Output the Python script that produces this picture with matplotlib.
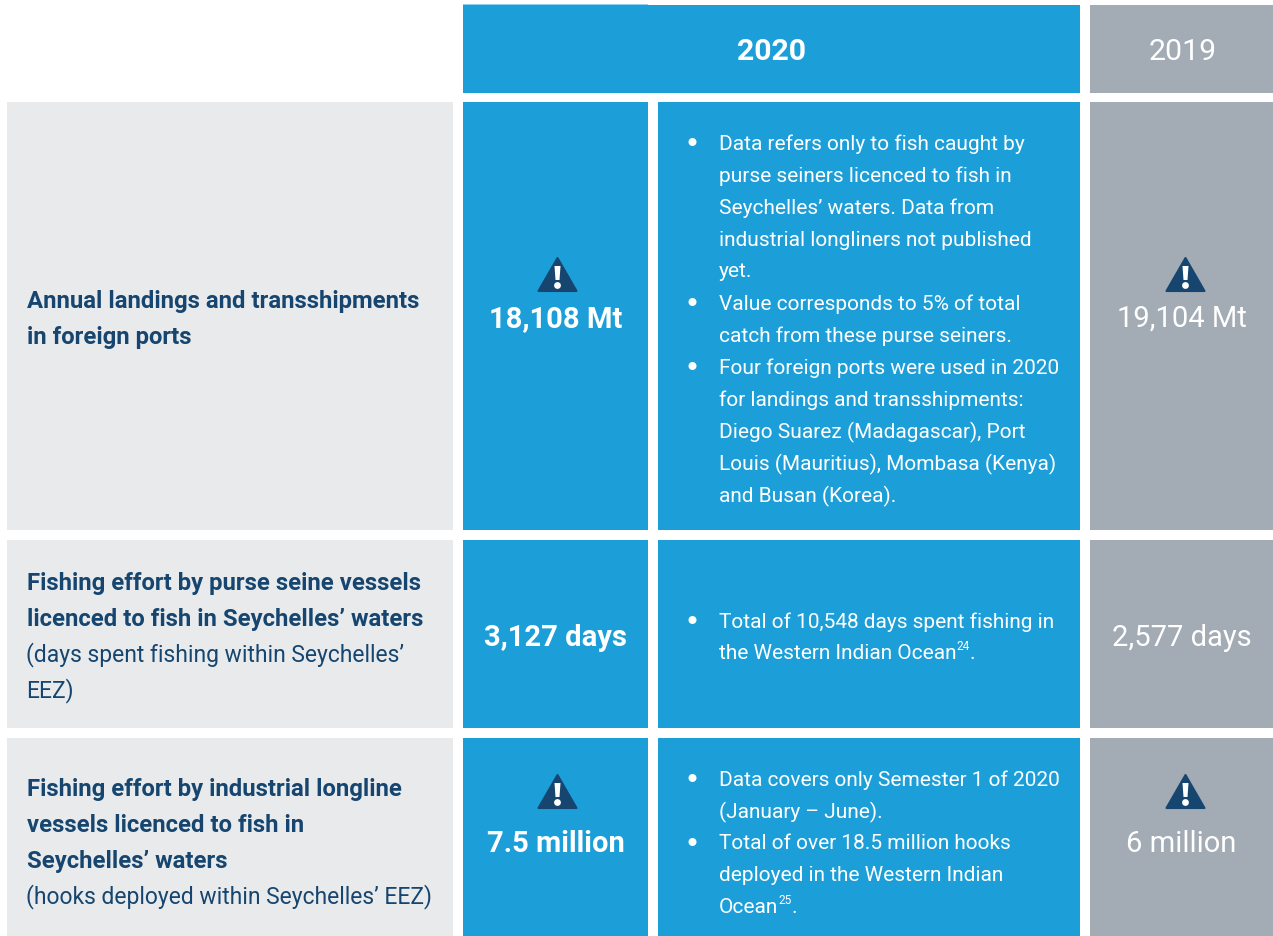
import matplotlib
matplotlib.use("Agg")

import matplotlib.pyplot as plt
from matplotlib.patches import Polygon, Rectangle, Circle

FONT = "Roboto"
BLUE = "#1c9fd8"
GREY = "#a3abb4"
LIGHT = "#e9eaec"
NAVY = "#16466f"

years = ["2020", "2019"]

row_titles = [
    ["Annual landings and transshipments", "in foreign ports"],
    ["Fishing effort by purse seine vessels", "licenced to fish in Seychelles\u2019 waters"],
    ["Fishing effort by industrial longline", "vessels licenced to fish in", "Seychelles\u2019 waters"],
]
row_notes = [
    [],
    ["(days spent fishing within Seychelles\u2019", "EEZ)"],
    ["(hooks deployed within Seychelles\u2019 EEZ)"],
]
values_2020 = ["18,108 Mt", "3,127 days", "7.5 million"]
values_2019 = ["19,104 Mt", "2,577 days", "6 million"]
warnings = [True, False, True]

# each bullet is a list of wrapped lines
comments = [
    [
        ["Data refers only to fish caught by", "purse seiners licenced to fish in",
         "Seychelles\u2019 waters. Data from", "industrial longliners not published", "yet."],
        ["Value corresponds to 5% of total", "catch from these purse seiners."],
        ["Four foreign ports were used in 2020", "for landings and transshipments:",
         "Diego Suarez (Madagascar), Port", "Louis (Mauritius), Mombasa (Kenya)",
         "and Busan (Korea)."],
    ],
    [["Total of 10,548 days spent fishing in", "the Western Indian Ocean"]],
    [
        ["Data covers only Semester 1 of 2020", "(January \u2013 June)."],
        ["Total of over 18.5 million hooks", "deployed in the Western Indian", "Ocean"],
    ],
]
# superscript note and the text after it, on the last line of the last bullet
footnotes = [None, ("24", "."), ("25", ".")]

# layout in pixels of the page
col_left = [7, 463, 658, 1090]
col_right = [453, 648, 1080, 1273]
row_top = [103, 541, 739]
row_bottom = [531, 729, 937]
head_top, head_bottom = 6, 94
title_first_y = [302, 584, 790]
comment_first_y = [144, 622, 780]
value_y = [319, 638, 844]
icon_y = [276, None, 793]
TITLE_SIZE = 17.2
NOTE_SIZE = 16.5
BODY_SIZE = 15.0
VALUE_SIZE = 21
HEAD_SIZE = 21.8
LINE_TITLE = 36
LINE_BODY = 32

fig = plt.figure(figsize=(12.73, 9.37), dpi=100)
ax = fig.add_axes([0, 0, 1, 1])
ax.set_xlim(0, 1273)
ax.set_ylim(937, 0)
ax.axis("off")


def cell(x0, x1, y0, y1, color):
    ax.add_patch(Rectangle((x0, y0), x1 - x0, y1 - y0, facecolor=color, edgecolor="none"))


def label(x, y, s, color="white", size=BODY_SIZE, weight="normal", ha="left"):
    return ax.text(x, y, s, color=color, fontsize=size, fontweight=weight, ha=ha,
                   va="center", family=FONT)


def warning_icon(cx, cy):
    # triangle with a white exclamation mark, about 40 px wide
    ax.add_patch(Polygon([(cx, cy - 17), (cx + 19, cy + 16), (cx - 19, cy + 16)], closed=True,
                         facecolor=NAVY, edgecolor=NAVY, linewidth=1.5, joinstyle="round"))
    ax.add_patch(Polygon([(cx - 3, cy - 9), (cx + 3, cy - 9), (cx + 2, cy + 5), (cx - 2, cy + 5)],
                         closed=True, facecolor="white", edgecolor="none"))
    ax.add_patch(Circle((cx, cy + 10.5), 3.4, facecolor="white", edgecolor="none"))


# header
cell(col_left[1], col_right[2], head_top, head_bottom, BLUE)
cell(col_left[1], col_right[1], head_top - 1, head_top, "#8fcdea")
cell(col_left[3], col_right[3], head_top, head_bottom, GREY)
label((col_left[1] + col_right[2]) / 2, 52, years[0], size=HEAD_SIZE, weight="bold", ha="center")
label((col_left[3] + col_right[3]) / 2 + 1, 52, years[1], size=HEAD_SIZE, ha="center")

for i in range(3):
    y0, y1 = row_top[i], row_bottom[i]
    cell(col_left[0], col_right[0], y0, y1, LIGHT)
    cell(col_left[1], col_right[1], y0, y1, BLUE)
    cell(col_left[2], col_right[2], y0, y1, BLUE)
    cell(col_left[3], col_right[3], y0, y1, GREY)

    # row title, bold lines then the regular note
    y = title_first_y[i]
    for line in row_titles[i]:
        label(27, y, line, color=NAVY, size=TITLE_SIZE, weight="bold")
        y += LINE_TITLE
    for line in row_notes[i]:
        label(26, y - 1, line, color=NAVY, size=NOTE_SIZE)
        y += LINE_TITLE

    # values
    label((col_left[1] + col_right[1]) / 2, value_y[i], values_2020[i], size=VALUE_SIZE,
          weight="bold", ha="center")
    label((col_left[3] + col_right[3]) / 2, value_y[i], values_2019[i], size=VALUE_SIZE, ha="center")
    if warnings[i]:
        warning_icon((col_left[1] + col_right[1]) / 2 + 2, icon_y[i])
        warning_icon((col_left[3] + col_right[3]) / 2 + 4, icon_y[i])

    # bullets
    y = comment_first_y[i]
    last = None
    for bullet in comments[i]:
        ax.add_patch(Circle((692.5, y - 1), 4, facecolor="white", edgecolor="none"))
        for line in bullet:
            last = label(719, y, line)
            y += LINE_BODY
    if footnotes[i]:
        fig.canvas.draw()
        box = last.get_window_extent().transformed(ax.transData.inverted())
        sup, tail = footnotes[i]
        t = label(box.x1, y - LINE_BODY - 7, sup, size=8.5)
        box2 = t.get_window_extent().transformed(ax.transData.inverted())
        label(box2.x1, y - LINE_BODY, tail)

fig.savefig("out.png", dpi=100)
